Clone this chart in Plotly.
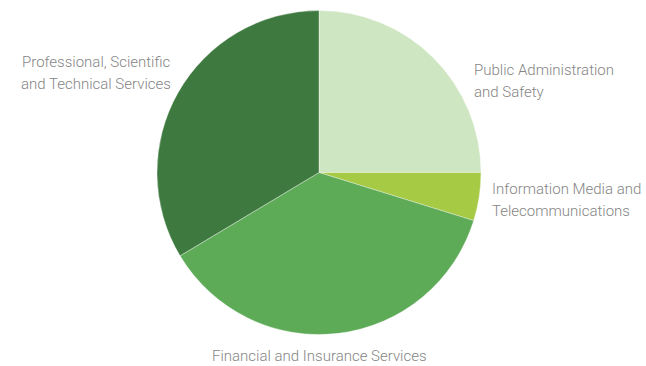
import plotly.graph_objects as go

# Industry share (percent), listed clockwise from 12 o'clock
categories = [
    "Public Administration and Safety",
    "Information Media and Telecommunications",
    "Financial and Insurance Services",
    "Professional, Scientific and Technical Services",
]
shares = [25.0, 4.8, 36.6, 33.6]
colors = ["#cfe6c2", "#a6ca44", "#5daa57", "#3e7a3f"]

# Label lines as they are set beside the pie
label_lines = {
    "Public Administration and Safety": ["Public Administration", "and Safety"],
    "Information Media and Telecommunications": ["Information Media and", "Telecommunications"],
    "Financial and Insurance Services": ["Financial and Insurance Services"],
    "Professional, Scientific and Technical Services": ["Professional, Scientific", "and Technical Services"],
}

W, H = 646, 366
cx, cy, r = 319, 172.5, 162

fig = go.Figure(
    go.Pie(
        labels=categories,
        values=shares,
        sort=False,
        direction="clockwise",
        rotation=0,
        marker=dict(colors=colors, line=dict(color="rgba(255,255,255,0.6)", width=0.6)),
        textinfo="none",
        hoverinfo="label+percent",
        showlegend=False,
        domain=dict(x=[(cx - r) / W, (cx + r) / W], y=[1 - (cy + r) / H, 1 - (cy - r) / H]),
    )
)

# (x px, y px of each line centre, anchor)
placements = {
    "Public Administration and Safety": (472, [70, 92], "left"),
    "Information Media and Telecommunications": (490, [189, 211], "left"),
    "Financial and Insurance Services": (319, [356], "center"),
    "Professional, Scientific and Technical Services": (173, [62, 84], "right"),
}

annotations = []
for cat in categories:
    x, ys, anchor = placements[cat]
    for line, y in zip(label_lines[cat], ys):
        annotations.append(
            dict(
                text=line,
                x=x / W,
                y=1 - y / H,
                xref="paper",
                yref="paper",
                xanchor=anchor,
                yanchor="middle",
                showarrow=False,
                font=dict(family="Roboto", size=15, color="#858585", weight=300),
            )
        )

fig.update_layout(
    width=W,
    height=H,
    margin=dict(l=0, r=0, t=0, b=0),
    paper_bgcolor="white",
    plot_bgcolor="white",
    annotations=annotations,
)

fig.write_html("out.html")
